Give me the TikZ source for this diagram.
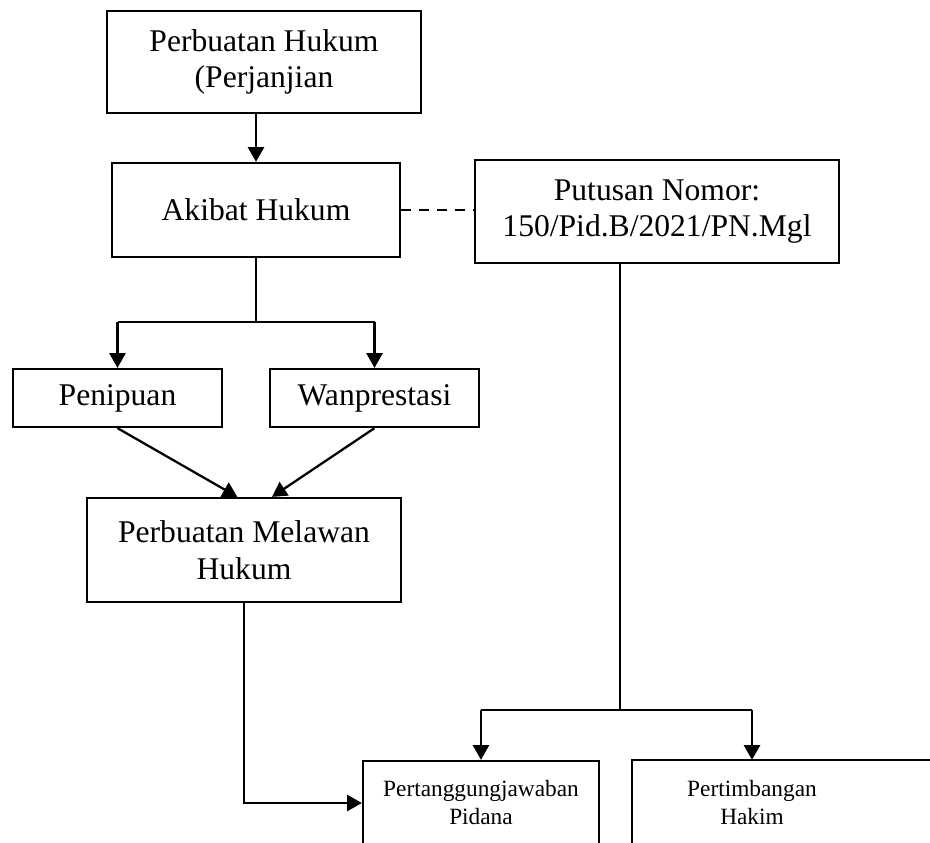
\documentclass[tikz,border=0pt]{standalone}
\usepackage{fontspec}
\setmainfont{Liberation Serif}
\usetikzlibrary{arrows.meta,positioning}
\tikzset{
    % kotak besar
    boxnode/.style={
        draw,
        line width=1.7pt,
        align=center,
        inner sep=0pt,
        font=\fontsize{23.7}{27.5}\selectfont
    },
    % kotak bawah
    smallbox/.style={
        line width=1.7pt,
        align=center,
        inner sep=0pt,
        font=\fontsize{17.5}{21}\selectfont
    },
    blackarrow/.style={
        line width=1.7pt,
        black,
        ->,
        >={Triangle[length=11pt, width=12pt]}
    },
    plainline/.style={line width=1.7pt, black},
    dashline/.style={line width=1.7pt, black, dash pattern=on 7.5pt off 6pt}
}

\begin{document}
\begin{tikzpicture}[x=0.75pt,y=-0.75pt]
\useasboundingbox (0,0) rectangle (930,842);
\clip (0,0) rectangle (930,842);

% kotak
\node[boxnode, minimum width=235.5pt, minimum height=76.5pt] (perbuatan) at (264,62) {Perbuatan Hukum\\(Perjanjian};
\node[boxnode, minimum width=216pt, minimum height=70.5pt] (akibat) at (256,210) {Akibat Hukum};
\node[boxnode, minimum width=273pt, minimum height=77.25pt] (putusan) at (657,211.5) {Putusan Nomor:\\150/Pid.B/2021/PN.Mgl};
\node[boxnode, minimum width=156.75pt, minimum height=43.5pt] (penipuan) at (117.5,398) {Penipuan};
\node[boxnode, minimum width=156.75pt, minimum height=43.5pt] (wanprestasi) at (374.5,398) {Wanprestasi};
\node[boxnode, minimum width=235.5pt, minimum height=78pt] (pmh) at (244,550) {Perbuatan Melawan\\Hukum};
\node[smallbox, draw, minimum width=177pt, minimum height=63pt] (pidana) at (481,803) {Pertanggungjawaban\\Pidana};
\node[smallbox, minimum width=178.5pt, minimum height=63pt] (hakim) at (752,803) {Pertimbangan\\Hakim};
\draw[plainline] (hakim.south west) -- (hakim.north west) -- ([xshift=80pt]hakim.north east);

% panah
\draw[blackarrow] (akibat.north |- perbuatan.south) -- (akibat.north);
\draw[dashline] (akibat.east) -- (akibat.east -| putusan.west);

\draw[plainline] (akibat.south) -- ++(0,64) coordinate (cabang1);
\draw[plainline] (cabang1 -| penipuan.north) -- (cabang1 -| wanprestasi.north);
\draw[blackarrow] (cabang1 -| penipuan.north) -- (penipuan.north);
\draw[blackarrow] (cabang1 -| wanprestasi.north) -- (wanprestasi.north);

\draw[blackarrow] (penipuan.south) -- ([xshift=-5pt]pmh.north);
\draw[blackarrow] (wanprestasi.south) -- ([xshift=21pt]pmh.north);

\draw[blackarrow] (pmh.south) |- (pidana.west);

\coordinate (cabang2) at (620,710);
\draw[plainline] (cabang2 |- putusan.south) -- (cabang2);
\draw[plainline] (cabang2 -| pidana.north) -- (cabang2 -| hakim.north);
\draw[blackarrow] (cabang2 -| pidana.north) -- (pidana.north);
\draw[blackarrow] (cabang2 -| hakim.north) -- (hakim.north);
\end{tikzpicture}
\end{document}
